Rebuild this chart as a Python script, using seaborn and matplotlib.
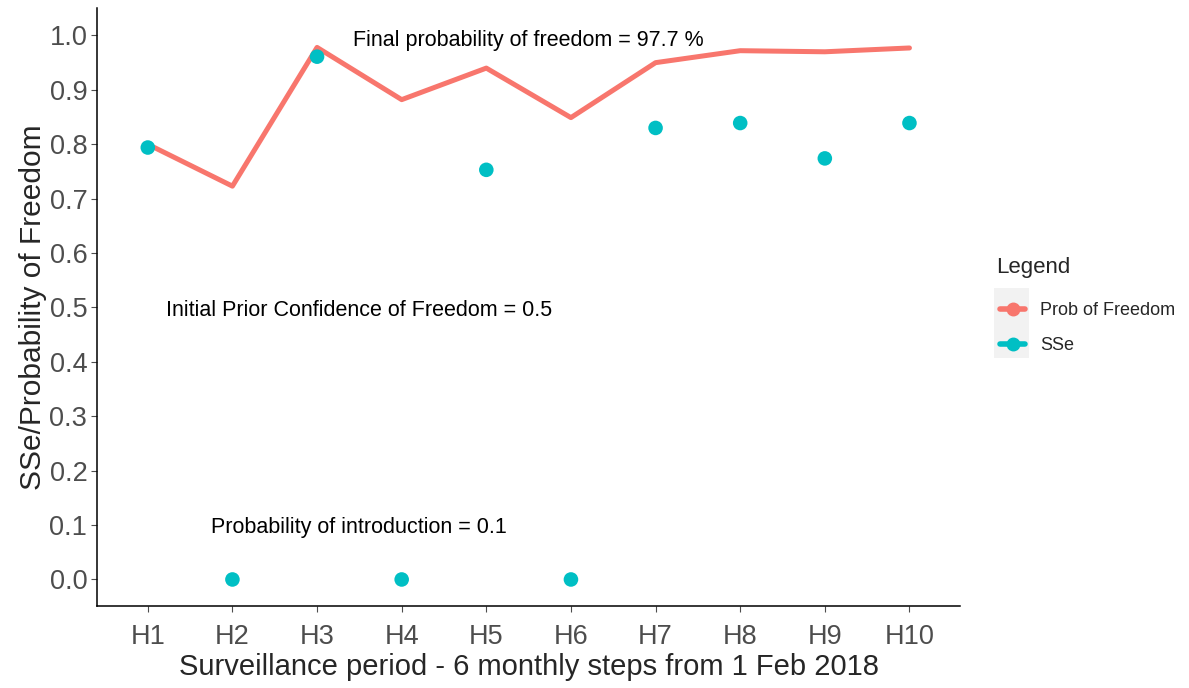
import matplotlib
matplotlib.use("Agg")
import matplotlib.pyplot as plt
import pandas as pd
import seaborn as sns
from matplotlib.lines import Line2D
from matplotlib.patches import Rectangle

periods = ["H1", "H2", "H3", "H4", "H5", "H6", "H7", "H8", "H9", "H10"]
prob_freedom = [0.800, 0.723, 0.978, 0.882, 0.940, 0.849, 0.950, 0.972, 0.970, 0.977]
sse = [0.794, 0.0, 0.961, 0.0, 0.753, 0.0, 0.830, 0.839, 0.774, 0.839]

df = pd.DataFrame({"Period": periods, "Prob": prob_freedom, "SSe": sse})
df["x"] = range(len(periods))

red = "#F8766D"
teal = "#00BFC4"

sns.set_style("white")
plt.rcParams["font.family"] = ["Liberation Sans", "DejaVu Sans"]

fig = plt.figure(figsize=(11.89, 6.88), dpi=100)
ax = fig.add_axes([0.0816, 0.119, 0.726, 0.869])

sns.lineplot(data=df, x="x", y="Prob", color=red, linewidth=3.6, ax=ax, legend=False)
sns.scatterplot(data=df, x="x", y="SSe", color=teal, s=110, edgecolor="none", ax=ax,
                legend=False, zorder=3)

ax.text(4.5, 0.99, "Final probability of freedom = 97.7 %", ha="center", va="center",
        fontsize=15.5, color="black")
ax.text(2.5, 0.495, "Initial Prior Confidence of Freedom = 0.5", ha="center", va="center",
        fontsize=15.5, color="black")
ax.text(2.5, 0.096, "Probability of introduction = 0.1", ha="center", va="center",
        fontsize=15.5, color="black")

ax.set_xlim(-0.6, len(periods) - 0.4)
ax.set_ylim(-0.049, 1.05)
ax.set_xticks(df["x"])
ax.set_xticklabels(periods)
ax.set_yticks([i / 10 for i in range(11)])
ax.set_yticklabels([f"{i / 10:.1f}" for i in range(11)])
ax.tick_params(axis="both", labelsize=19.5, colors="#4D4D4D", length=4, width=0.8,
               bottom=True, left=True)
ax.tick_params(axis="x", pad=9)
ax.tick_params(axis="y", pad=3)
for lab in ax.get_xticklabels() + ax.get_yticklabels():
    lab.set_color("#4D4D4D")

for side in ["top", "right"]:
    ax.spines[side].set_visible(False)
for side in ["left", "bottom"]:
    ax.spines[side].set_color("black")
    ax.spines[side].set_linewidth(1.1)

ax.set_xlabel("Surveillance period - 6 monthly steps from 1 Feb 2018", fontsize=21, labelpad=2)
ax.set_ylabel("SSe/Probability of Freedom", fontsize=21.5, labelpad=2)

# legend: title, grey key background, keys
fig.text(996 / 1189, 1 - 268 / 688, "Legend", fontsize=16, ha="left", va="center")
fig.patches.append(Rectangle((0.836, 0.480), 0.0294, 0.102, transform=fig.transFigure,
                             facecolor="#F2F2F2", edgecolor="none", zorder=0))

handles = [
    Line2D([], [], color=red, lw=4, marker="o", markersize=9),
    Line2D([], [], color=teal, lw=4, marker="o", markersize=9),
]
leg = fig.legend(handles, ["Prob of Freedom", "SSe"],
                 loc="upper left", bbox_to_anchor=(1000 / 1189, 1 - 302 / 688), frameon=False,
                 fontsize=13, handlelength=1.4, handletextpad=0.8, labelspacing=1.0,
                 borderaxespad=0, borderpad=0)

fig.savefig("out.png", dpi=100)
